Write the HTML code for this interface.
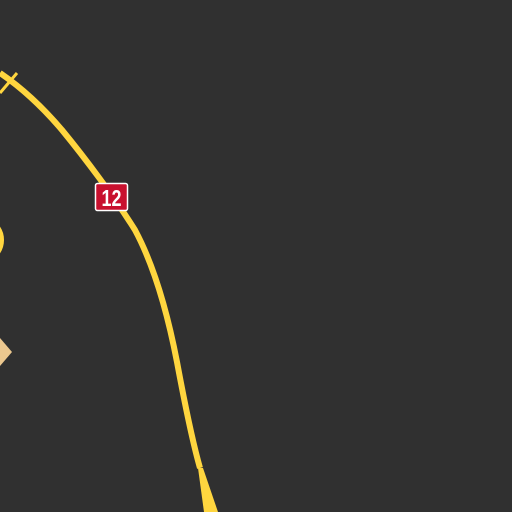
<!DOCTYPE html>
<html><head><style>
html,body{margin:0;padding:0;background:#303030;}
svg{display:block}
</style></head><body>
<svg width="512" height="512" viewBox="0 0 512 512">
<rect width="512" height="512" fill="#303030"/>
<path d="M0,73 C25,90 45,110 62,130 C85,158 115,198 135,230 C150,258 165,300 177,362 C185,405 192,440 200,468" fill="none" stroke="#ffd63f" stroke-width="6"/>
<path d="M198,468 L203,468 L218,512 L204,512 Z" fill="#ffd63f"/>
<line x1="0" y1="93" x2="17" y2="73" stroke="#ffd63f" stroke-width="3"/>
<circle cx="-20" cy="240" r="22" fill="none" stroke="#ffd63f" stroke-width="4"/>
<path d="M0,338 L12,352 L0,366 Z" fill="#ecc88f"/>
<g>
<rect x="95.5" y="183.5" width="32" height="27" rx="2" fill="#c8102e" stroke="#ffffff" stroke-width="1.5"/>
<text x="111.5" y="206" text-anchor="middle" fill="#ffffff" font-family="Liberation Sans, sans-serif" font-weight="bold" font-size="23" textLength="20" lengthAdjust="spacingAndGlyphs">12</text>
</g>
</svg>
</body></html>
